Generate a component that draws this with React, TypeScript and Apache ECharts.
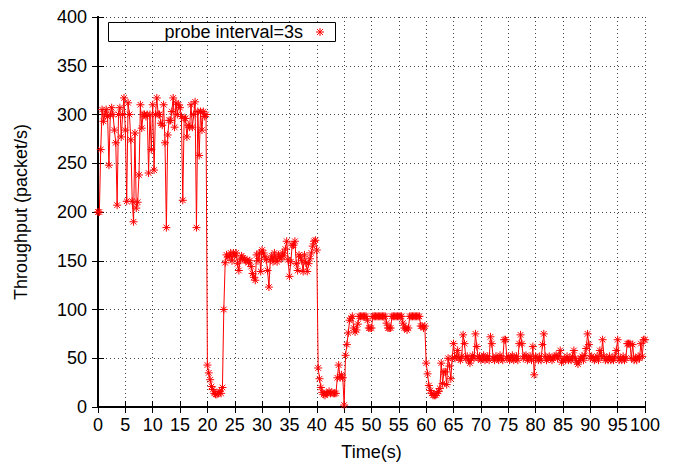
import React, { useEffect, useRef } from "react";
import * as echarts from "echarts";

// Throughput samples, 4 per second (step 0.25 s), in 10-second chunks
const STEP = 0.25;
const seg00 = [200,200,264,305, 293,300,305,298, 248,300,307,300, 284,271,207,300, 307,277,300,317, 284,211,312,300, 274,211,190,281, 204,210,238,310, 286,300,300,298, 300,240,300,264];
const seg10 = [310,243,300,317, 300,300,291,289, 310,271,184,279, 294,294,303,317, 287,312,300,310, 307,298,212,296, 296,277,289,287, 310,287,300,313, 184,303,258,303, 284,303,298,300];
const seg20 = [43,35,28,21, 18,14,13,13, 14,16,14,20, 100,148,156,154, 154,158,150,158, 155,158,147,140, 151,155,153,151, 150,151,148,150, 144,137,133,130, 156,150,158,139];
const seg30 = [161,158,154,151, 140,123,151,155, 149,158,152,149, 156,154,152,158, 155,162,170,151, 134,149,166,166, 170,147,140,156, 154,150,139,156, 148,139,147,152, 158,165,170,171];
const seg40 = [161,40,29,20, 15,13,12,14, 14,16,14,15, 14,14,14,30, 43,30,33,30, 2,53,64,76, 89,91,93,81, 77,79,85,93, 93,93,93,93, 93,89,81,81];
const seg50 = [81,93,93,93, 93,93,93,93, 93,93,93,86, 81,81,81,93, 93,93,93,93, 93,93,93,86, 81,81,79,81, 93,93,93,93, 93,93,93,93, 83,83,81,83];
const seg60 = [45,34,22,17, 14,12,12,12, 14,16,19,45, 24,36,36,23, 50,42,29,50, 65,50,52,58, 50,48,52,74, 65,50,52,48, 45,50,53,50, 75,62,50,52];
const seg70 = [48,50,53,48, 50,52,48,72, 65,50,48,52, 50,48,53,50, 48,69,69,50, 52,48,50,53, 48,50,52,48, 65,74,65,50, 52,53,48,50, 52,48,62,33];
const seg80 = [52,50,48,52, 48,64,75,52, 48,50,52,50, 48,50,52,53, 50,52,58,46, 48,50,48,52, 48,50,48,52, 58,50,46,44, 48,50,52,48, 53,60,75,64];
const seg90 = [50,52,50,48, 50,52,48,58, 52,69,52,48, 50,48,52,48, 50,48,52,58, 69,48,50,48, 52,48,50,65, 65,65,50,64, 48,50,48,52, 50,65,52,69, 69];

const SERIES_NAME = "probe interval=3s";
const X_LABEL = "Time(s)";
const Y_LABEL = "Throughput (packet/s)";

const values = [...seg00, ...seg10, ...seg20, ...seg30, ...seg40, ...seg50, ...seg60, ...seg70, ...seg80, ...seg90];
const points = values.map((v, i) => [i * STEP, v]);

const FONT = "'Liberation Sans', Arial, sans-serif";
const FS = 18;
const STAR = "path://M0,-5L0,5M-5,0L5,0M-3.5,-3.5L3.5,3.5M-3.5,3.5L3.5,-3.5";

export default function App() {
  const ref = useRef<HTMLDivElement>(null);
  useEffect(() => {
    if (!ref.current) return;
    const chart = echarts.init(ref.current, null, { renderer: "svg" });
    const gridStyle = { show: true, lineStyle: { color: "#444", width: 1, type: [1, 3] as any } };
    const frame = { show: true, lineStyle: { color: "#000", width: 2 } };
    const tick = { show: true, inside: true, length: 6, lineStyle: { color: "#000", width: 1 } };
    const starLine = (x1: number, y1: number, x2: number, y2: number) => ({
      type: "line", z: 20, shape: { x1, y1, x2, y2 }, style: { stroke: "#ff0000", lineWidth: 1 },
    });
    chart.setOption({
      animation: false,
      backgroundColor: "#fff",
      textStyle: { fontFamily: FONT },
      grid: { left: 98, right: 29, top: 17, bottom: 59, containLabel: false },
      xAxis: [
        {
          type: "value", min: 0, max: 100, interval: 5, position: "bottom",
          axisLine: frame, axisTick: tick, splitLine: gridStyle,
          axisLabel: { color: "#000", fontSize: FS, fontFamily: FONT, margin: 9 },
          name: X_LABEL, nameLocation: "middle", nameGap: 36,
          nameTextStyle: { color: "#000", fontSize: FS, fontFamily: FONT },
        },
        {
          type: "value", min: 0, max: 100, interval: 5, position: "top",
          axisLine: frame, axisTick: tick, splitLine: { show: false }, axisLabel: { show: false },
        },
      ],
      yAxis: [
        {
          type: "value", min: 0, max: 400, interval: 50, position: "left",
          axisLine: frame, axisTick: tick, splitLine: gridStyle,
          axisLabel: { color: "#000", fontSize: FS, fontFamily: FONT, margin: 11 },
          name: Y_LABEL, nameLocation: "middle", nameGap: 68, nameRotate: 90,
          nameTextStyle: { color: "#000", fontSize: FS, fontFamily: FONT },
        },
        {
          type: "value", min: 0, max: 400, interval: 50, position: "right",
          axisLine: frame, axisTick: tick, splitLine: { show: false }, axisLabel: { show: false },
        },
      ],
      series: [
        {
          name: SERIES_NAME,
          type: "line",
          data: points,
          xAxisIndex: 0,
          yAxisIndex: 0,
          symbol: STAR,
          symbolSize: 8,
          showAllSymbol: true,
          lineStyle: { color: "#ff0000", width: 1 },
          itemStyle: { color: "#ff0000", borderColor: "#ff0000", borderWidth: 1 },
          z: 3,
        },
      ],
      graphic: [
        {
          type: "rect", left: 108, top: 22, z: 10,
          shape: { width: 227, height: 19 },
          style: { fill: "#fff", stroke: "#000", lineWidth: 1 },
        },
        {
          type: "text", z: 11, x: 303, y: 32,
          style: { text: SERIES_NAME, fill: "#000", font: `${FS}px ${FONT}`, align: "right", verticalAlign: "middle" },
        },
        starLine(320, 28, 320, 36),
        starLine(316, 32, 324, 32),
        starLine(317, 29, 323, 35),
        starLine(317, 35, 323, 29),
      ],
    });
    return () => chart.dispose();
  }, []);
  return (
    <div
      ref={ref}
      style={{ position: "fixed", left: 0, top: 0, width: 674, height: 466 }}
    />
  );
}
